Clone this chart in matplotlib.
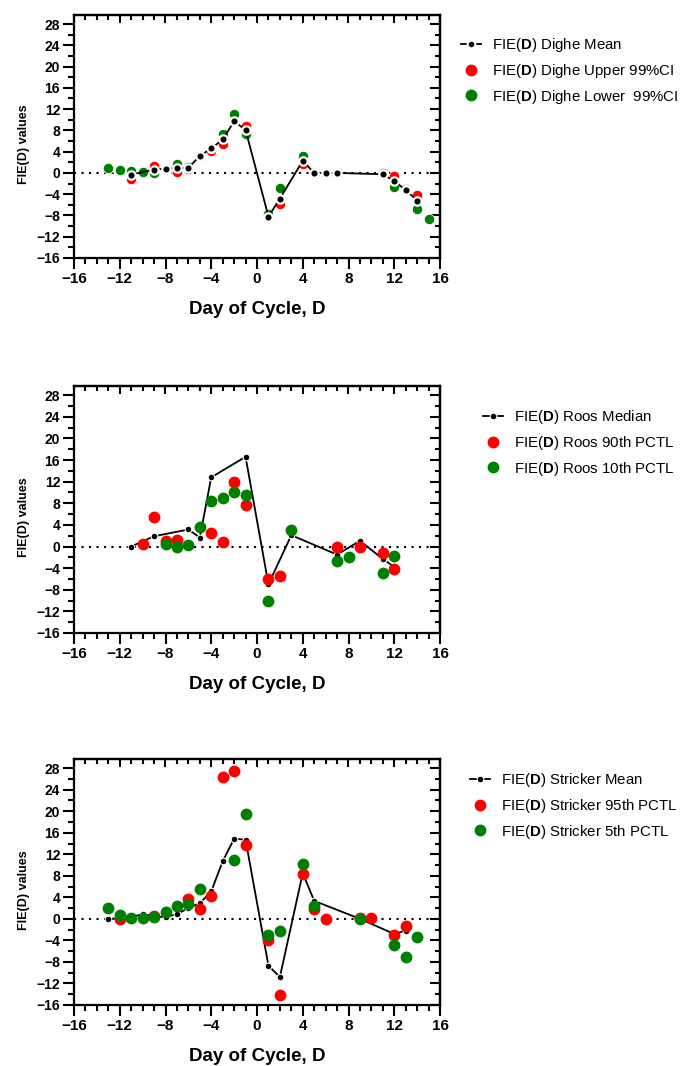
import matplotlib
matplotlib.use('Agg')
import matplotlib.pyplot as plt
from matplotlib.lines import Line2D
import numpy as np

plt.rcParams['font.family'] = ['Liberation Sans', 'DejaVu Sans']
plt.rcParams['mathtext.fontset'] = 'custom'
plt.rcParams['mathtext.bf'] = 'Liberation Sans:bold'
plt.rcParams['mathtext.rm'] = 'Liberation Sans'

# ---- Dighe ----
dighe_mean_days = [-11, -9, -8, -7, -6, -5, -4, -3, -2, -1, 1, 2, 4, 5, 6, 7, 11, 12, 13, 14]
dighe_mean = [-0.3, 0.6, 0.8, 0.9, 0.95, 3.2, 4.6, 6.3, 9.7, 8.1, -8.2, -4.85, 2.3, 0, 0, 0, -0.25, -1.55, -3.2, -5.2]
dighe_up_days = [-13, -12, -11, -10, -9, -8, -7, -6, -5, -4, -3, -2, -1, 1, 2, 4, 5, 6, 7, 11, 12, 13, 14]
dighe_up = [0.87, 0.62, -1.1, 0.12, 1.35, 0.8, 0.25, 0.8, 3.2, 4.05, 5.4, 9.9, 8.8, -8.3, -5.8, 1.7, 0, 0, 0, -0.25, -0.5, -3.0, -4.2]
dighe_lo_days = [-13, -12, -11, -10, -9, -8, -7, -6, -5, -4, -3, -2, -1, 1, 2, 4, 5, 6, 7, 11, 12, 13, 14, 15]
dighe_lo = [0.87, 0.62, 0.4, 0.12, 0.0, 0.8, 1.6, 1.1, 3.2, 4.6, 7.4, 11.05, 7.35, -7.8, -2.8, 3.2, 0, 0, 0, 0, -2.7, -3.3, -6.7, -8.6]

# ---- Roos ----
roos_med_days = [-11, -9, -6, -5, -4, -1, 1, 3, 7, 9, 11, 12]
roos_med = [0, 1.9, 3.15, 1.65, 12.8, 16.6, -7.0, 2.1, -1.5, 1.05, -2.3, -3.8]
roos_90_days = [-10, -9, -8, -7, -4, -3, -2, -1, 1, 2, 7, 9, 11, 12]
roos_90 = [0.43, 5.46, 0.93, 1.24, 2.48, 0.87, 11.97, 7.69, -6.0, -5.5, -0.12, 0.0, -1.18, -4.16]
roos_10_days = [-8, -7, -6, -5, -4, -3, -2, -1, 1, 3, 7, 8, 11, 12]
roos_10 = [0.43, 0.0, 0.2, 3.6, 8.37, 8.93, 10.1, 9.49, -10.0, 3.04, -2.73, -1.92, -4.9, -1.8]

# ---- Stricker ----
str_mean_days = [-13, -12, -11, -10, -9, -8, -7, -6, -5, -4, -3, -2, -1, 1, 2, 4, 5, 9, 12, 13]
str_mean = [0, 0.1, 0.3, 0.9, 0.5, 0.3, 0.9, 2.0, 2.9, 5.1, 10.7, 14.9, 14.7, -8.7, -10.8, 8.5, 3.35, 0, -2.8, -2.2]
str_95_days = [-12, -9, -6, -5, -4, -3, -2, -1, 1, 2, 4, 5, 6, 9, 10, 12, 13]
str_95 = [0, 0.62, 3.66, 1.8, 4.34, 26.3, 27.5, 13.64, -3.97, -14.2, 8.3, 1.86, 0, 0.25, 0.25, -3.04, -1.3]
str_5_days = [-13, -12, -11, -10, -9, -8, -7, -6, -5, -2, -1, 1, 2, 4, 5, 9, 12, 13, 14]
str_5 = [1.98, 0.74, 0.25, 0.19, 0.31, 1.36, 2.3, 2.79, 5.52, 11.0, 19.47, -2.98, -2.23, 10.15, 2.48, 0, -4.84, -7.0, -3.29]

W, H = 681, 1066
fig = plt.figure(figsize=(W / 100, H / 100), dpi=100)

RED = '#ff0000'
GREEN = '#008000'


def make_axes(top, bottom):
    ax = fig.add_axes([74 / W, 1 - bottom / H, 366 / W, (bottom - top) / H])
    ax.set_xlim(-16, 16)
    ax.set_ylim(-16, 29.7)
    ax.set_xticks(np.arange(-16, 17, 4))
    ax.set_xticks(np.arange(-16, 17, 1), minor=True)
    ax.set_yticks(np.arange(-16, 29, 4))
    ax.set_yticks(np.arange(-16, 29, 2), minor=True)
    for s in ax.spines.values():
        s.set_linewidth(1.6)
    ax.tick_params(which='major', direction='out', length=8, width=1.5, pad=2)
    ax.tick_params(which='minor', direction='out', length=4.5, width=1.5)
    ax.tick_params(axis='x', labelsize=11)
    ax.tick_params(axis='y', labelsize=10)
    for lab in ax.get_xticklabels() + ax.get_yticklabels():
        lab.set_fontweight('bold')
    sx = ax.secondary_xaxis('top')
    sx.set_xticks(np.arange(-16, 17, 4))
    sx.set_xticks(np.arange(-16, 17, 1), minor=True)
    sx.tick_params(which='major', direction='in', length=6, width=1.5, labeltop=False)
    sx.tick_params(which='minor', direction='in', length=3.5, width=1.5)
    sx.spines['top'].set_linewidth(1.6)
    sy = ax.secondary_yaxis('right')
    sy.set_yticks(np.arange(-16, 29, 4))
    sy.set_yticks(np.arange(-16, 29, 2), minor=True)
    sy.tick_params(which='major', direction='in', length=7, width=1.5, labelright=False)
    sy.tick_params(which='minor', direction='in', length=3.5, width=1.5)
    sy.spines['right'].set_linewidth(1.6)
    ax.axhline(0, color='black', lw=1.5, ls=(0, (1, 2.6)), zorder=1)
    ax.set_xlabel('Day of Cycle, D', fontsize=13.5, fontweight='bold', labelpad=11)
    fig.text(24 / W, 1 - ((top + bottom) / 2 + 8) / H, 'FIE(D) values', rotation=90,
             fontsize=9, fontweight='bold', ha='center', va='center')
    return ax


def add_legend(ax, handles, labels, x, y):
    ax.legend(handles, labels, loc='upper left', bbox_to_anchor=(x / W, 1 - y / H),
              bbox_transform=fig.transFigure, frameon=False, fontsize=10.8,
              handlelength=1.35, handletextpad=0.72, labelspacing=0.52,
              borderpad=0, borderaxespad=0)


# Panel 1: Dighe
ax1 = make_axes(15, 258)
ax1.plot(dighe_up_days, dighe_up, 'o', color=RED, ms=7.5, mec='white', mew=0.6, zorder=3)
ax1.plot(dighe_lo_days, dighe_lo, 'o', color=GREEN, ms=7.5, mec='white', mew=0.6, zorder=4)
ax1.plot(dighe_mean_days, dighe_mean, '-o', color='black', lw=1.3, ms=6, mec='white', mew=1.6, zorder=5)
h1 = [Line2D([], [], color='black', lw=1.3, marker='o', ms=5.5, mec='white', mew=1.5),
      Line2D([], [], ls='none', marker='o', color=RED, ms=7.5),
      Line2D([], [], ls='none', marker='o', color=GREEN, ms=7.5)]
add_legend(ax1, h1, [r'FIE($\mathbf{D}$) Dighe Mean', r'FIE($\mathbf{D}$) Dighe Upper 99%CI',
                     r'FIE($\mathbf{D}$) Dighe Lower  99%CI'], 461, 36)

# Panel 2: Roos
ax2 = make_axes(386, 633)
ax2.plot(roos_med_days, roos_med, '-o', color='black', lw=1.3, ms=4.8, mec='white', mew=0.8, zorder=3)
ax2.plot(roos_90_days, roos_90, 'o', color=RED, ms=7.5, mec=RED, zorder=4)
ax2.plot(roos_10_days, roos_10, 'o', color=GREEN, ms=7.5, mec=GREEN, zorder=5)
h2 = [Line2D([], [], color='black', lw=1.3, marker='o', ms=4.8, mec='white', mew=0.8),
      Line2D([], [], ls='none', marker='o', color=RED, ms=7.5),
      Line2D([], [], ls='none', marker='o', color=GREEN, ms=7.5)]
add_legend(ax2, h2, [r'FIE($\mathbf{D}$) Roos Median', r'FIE($\mathbf{D}$) Roos 90th PCTL',
                     r'FIE($\mathbf{D}$) Roos 10th PCTL'], 483, 408)

# Panel 3: Stricker
ax3 = make_axes(759, 1005)
ax3.plot(str_mean_days, str_mean, '-o', color='black', lw=1.3, ms=4.8, mec='white', mew=0.8, zorder=3)
ax3.plot(str_95_days, str_95, 'o', color=RED, ms=7.5, mec=RED, zorder=4)
ax3.plot(str_5_days, str_5, 'o', color=GREEN, ms=7.5, mec=GREEN, zorder=5)
h3 = [Line2D([], [], color='black', lw=1.3, marker='o', ms=4.8, mec='white', mew=0.8),
      Line2D([], [], ls='none', marker='o', color=RED, ms=7.5),
      Line2D([], [], ls='none', marker='o', color=GREEN, ms=7.5)]
add_legend(ax3, h3, [r'FIE($\mathbf{D}$) Stricker Mean', r'FIE($\mathbf{D}$) Stricker 95th PCTL',
                     r'FIE($\mathbf{D}$) Stricker 5th PCTL'], 470, 771)

fig.savefig('out.png', dpi=100)
